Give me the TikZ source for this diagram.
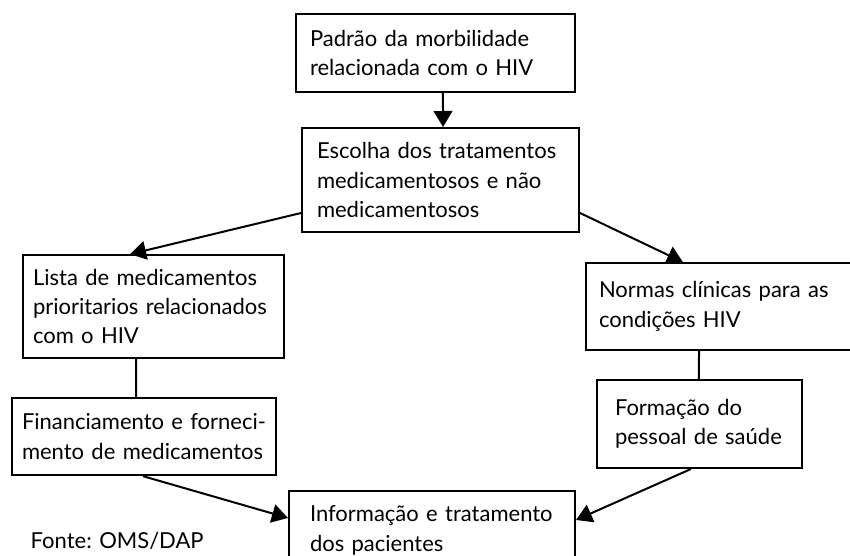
\documentclass[tikz,border=0pt]{standalone}
\usepackage{fontspec}
\setmainfont{Lato}
\usetikzlibrary{arrows.meta}

\tikzset{
  caixa/.style={draw, line width=1.5pt, align=left,
    font=\fontsize{16.5}{22}\selectfont},
  seta/.style={line width=1.5pt, -{Triangle[length=12pt,width=14pt]}},
  traco/.style={line width=1.5pt},
}

\begin{document}
\begin{tikzpicture}[x=0.75pt,y=-0.75pt]
                \useasboundingbox (0,0) rectangle (850,556);
                \node[caixa, text width=188.25pt, inner xsep=10.5pt, minimum height=58.5pt] (padrao) at (435.5,53) {Padrão da morbilidade\\relacionada com o HIV};
                \node[caixa, text width=185.25pt, inner xsep=11.25pt, minimum height=78pt] (escolha) at (440.5,180) {Escolha dos tratamentos\\medicamentosos e não\\medicamentosos};

                \node[caixa, text width=180.75pt, inner xsep=7.5pt, minimum height=77pt] (lista) at (153.5,306.5) {Lista de medicamentos\\prioritarios relacionados\\com o HIV};
                \node[caixa, text width=183pt, inner xsep=7.5pt, minimum height=58pt] (financ) at (144,436.5) {Financiamento e forneci-\\mento de medicamentos};

                \node[caixa, text width=181.5pt, inner xsep=9.75pt, minimum height=65pt] (normas) at (720,306.5) {Normas clínicas para as\\condições HIV};
                \node[caixa, text width=126.75pt, inner xsep=13.5pt, minimum height=66pt] (formacao) at (699.5,424) {Formação do\\pessoal de saúde};

                \node[caixa, text width=183pt, inner xsep=15.75pt, minimum height=59.25pt] (info) at (432,530.5) {Informação e tratamento\\dos pacientes};
                \node[font=\fontsize{16.5}{22}\selectfont, anchor=west] (fonte) at (26,541) {Fonte: OMS/DAP};

                \draw[seta] ([xshift=5.6pt]padrao.south) -- ([xshift=1.9pt]escolha.north);
                \draw[seta] ([yshift=-24.75pt]escolha.west) -- ([xshift=-17.6pt]lista.north);
                \draw[seta] ([yshift=-24.75pt]escolha.east) -- ([xshift=-27.75pt]normas.north);
                \draw[traco] ([xshift=-13.1pt]lista.south) -- ([xshift=-6pt]financ.north);
                \draw[traco] ([xshift=-15.75pt]normas.south) -- ([xshift=-0.4pt]formacao.north);
                \draw[seta] ([xshift=-0.75pt]financ.south) -- ([yshift=9.4pt]info.west);
                \draw[seta] ([xshift=-6.4pt]formacao.south) -- ([yshift=7.9pt]info.east);
\end{tikzpicture}
\end{document}
